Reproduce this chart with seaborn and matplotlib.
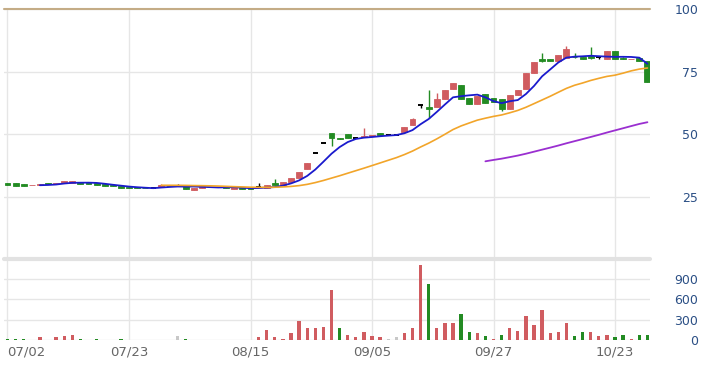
# Import libraries
import pandas as pd
import matplotlib
matplotlib.use('Agg')
import matplotlib.pyplot as plt
import seaborn as sns

# Set the theme of plots
sns.set_theme(style='white')
plt.rcParams['font.family'] = ['DejaVu Sans']

# Daily bars, index 0 = 07/02
opens = [30.7, 30.6, 30.2, 29.7, 29.9, 30.6, 30.1, 30.5, 30.6, 30.9,
         30.8, 30.6, 30.1, 29.8, 29.3, 29.1, 28.8, 28.7, 28.4, 29.0,
         29.8, 29.5, 29.3, 27.9, 28.6, 29.0, 28.9, 28.9, 28.3, 28.8,
         28.6, 29.0, 28.6, 30.7, 29.8, 30.8, 32.6, 36.2, 42.5, 46.7,
         50.4, 48.5, 50.0, 48.7, 49.0, 49.5, 50.4, 49.8, 49.8, 50.8,
         53.6, 61.6, 61.0, 60.7, 63.9, 67.9, 69.6, 64.6, 61.9, 65.9,
         64.3, 64.1, 59.9, 65.7, 67.9, 74.3, 80.0, 80.0, 79.4, 80.3,
         81.0, 80.7, 81.3, 80.7, 79.9, 83.2, 80.5, 80.0, 80.6, 79.2]
highs = [30.7, 30.6, 30.2, 29.9, 30.1, 30.6, 30.4, 31.2, 31.3, 30.9,
         30.8, 30.6, 30.1, 29.8, 29.3, 29.1, 28.8, 28.7, 28.4, 30.2,
         29.8, 30.3, 29.3, 28.6, 29.2, 29.0, 28.9, 28.9, 28.8, 28.8,
         28.6, 30.6, 29.6, 32.0, 31.1, 32.4, 35.0, 38.6, 42.5, 46.7,
         50.4, 48.5, 50.0, 48.7, 52.4, 49.7, 50.4, 49.8, 49.8, 53.0,
         56.5, 61.6, 67.7, 66.3, 67.7, 70.3, 69.6, 64.6, 65.3, 65.9,
         64.3, 64.1, 65.7, 67.7, 74.3, 78.8, 82.3, 80.0, 81.6, 85.3,
         82.3, 80.7, 85.0, 80.9, 83.2, 83.2, 80.9, 80.2, 80.6, 79.2]
lows = [29.6, 29.5, 29.2, 29.7, 29.9, 30.1, 30.1, 30.5, 30.6, 30.3,
        30.2, 29.9, 29.5, 29.3, 28.5, 28.4, 28.6, 28.5, 28.4, 28.8,
        29.5, 29.5, 28.3, 27.9, 28.6, 28.9, 28.8, 28.6, 28.3, 28.2,
        28.0, 29.0, 28.6, 29.8, 29.8, 30.8, 32.6, 36.2, 42.5, 46.7,
        45.3, 48.2, 48.6, 48.7, 49.0, 49.5, 49.8, 49.8, 49.8, 50.6,
        53.6, 60.5, 56.3, 60.7, 63.9, 67.9, 63.9, 61.9, 61.9, 62.3,
        62.7, 59.3, 59.9, 65.7, 67.9, 74.3, 79.0, 79.4, 79.4, 80.3,
        80.5, 79.9, 80.0, 80.1, 79.9, 80.2, 80.0, 80.0, 79.3, 71.0]
closes = [29.6, 29.5, 29.2, 29.9, 30.1, 30.1, 30.4, 31.2, 31.3, 30.3,
          30.2, 29.9, 29.5, 29.3, 28.5, 28.4, 28.6, 28.5, 28.4, 29.8,
          29.5, 29.5, 28.3, 28.6, 29.2, 28.9, 28.8, 28.6, 28.8, 28.2,
          28.0, 29.0, 29.6, 29.8, 31.1, 32.4, 35.0, 38.6, 42.5, 46.7,
          48.4, 48.2, 48.6, 48.7, 49.3, 49.7, 49.8, 49.8, 49.8, 52.9,
          56.0, 61.6, 60.2, 63.9, 67.7, 70.3, 63.9, 61.9, 65.3, 62.3,
          62.7, 59.9, 65.7, 67.7, 74.3, 78.8, 79.2, 79.4, 81.6, 84.0,
          80.7, 79.9, 80.5, 80.7, 83.2, 80.2, 80.0, 80.2, 79.3, 71.0]
volume = [15, 15, 15, 0, 40, 0, 44, 59, 73, 15,
          0, 12, 0, 0, 12, 0, 0, 0, 0, 0,
          0, 59, 12, 0, 0, 0, 0, 0, 0, 0,
          0, 40, 147, 40, 15, 98, 279, 172, 172, 186,
          745, 172, 73, 40, 113, 59, 40, 15, 40, 98,
          171, 1112, 833, 171, 245, 245, 392, 113, 98, 59,
          15, 73, 171, 132, 353, 220, 451, 98, 113, 245,
          59, 113, 113, 59, 73, 40, 73, 15, 73, 73]

tick_index = [0, 15, 30, 45, 60, 75]
tick_labels = ['07/02', '07/23', '08/15', '09/05', '09/27', '10/23']

RED = '#d05c60'
GREEN = '#238b23'
GRID = '#e6e6e6'

# Build the table
df = pd.DataFrame({'open': opens, 'high': highs, 'low': lows,
                   'close': closes, 'volume': volume})
df['idx'] = range(len(df))
df['ma5'] = df['close'].rolling(5).mean()
df['ma20'] = df['close'].rolling(20).mean()
df['ma60'] = df['close'].rolling(60).mean()

# Candle colour: close vs open; volume colour: close vs previous close
df['candle_col'] = [RED if c > o else (GREEN if c < o else 'black')
                    for o, c in zip(df['open'], df['close'])]
prev = df['close'].shift(1).fillna(df['open'])
df['vol_col'] = [RED if c > p else (GREEN if c < p else '#c8c8c8')
                 for p, c in zip(prev, df['close'])]

# Set the size of the plot
fig = plt.figure(figsize=(7.05, 3.71), dpi=100)
left, width = 3.85 / 705, 646.4 / 705
ax = fig.add_axes([left, 0.3005, width, 0.6752])
axv = fig.add_axes([left, 0.0836, width, 0.2183], sharex=ax)

# Candles: wicks, bodies, doji dashes
ax.vlines(df['idx'], df['low'], df['high'], colors=df['candle_col'], lw=1, zorder=3)
body = df[df['open'] != df['close']]
ax.bar(body['idx'], (body['close'] - body['open']).abs(),
       bottom=body[['open', 'close']].min(axis=1), width=0.72,
       color=body['candle_col'], edgecolor=body['candle_col'], linewidth=0.6, zorder=4)
doji = df[df['open'] == df['close']]
ax.hlines(doji['close'], doji['idx'] - 0.32, doji['idx'] + 0.32, colors='black', lw=1.4, zorder=4)

# Moving averages
sns.lineplot(data=df, x='idx', y='ma5', ax=ax, color='#1a1acd', linewidth=1.3, zorder=5)
sns.lineplot(data=df, x='idx', y='ma20', ax=ax, color='#f2a52a', linewidth=1.2, zorder=5)
sns.lineplot(data=df, x='idx', y='ma60', ax=ax, color='#9a2fd0', linewidth=1.3, zorder=5)

# Volume bars
axv.bar(df['idx'], df['volume'], width=0.4, color=df['vol_col'], linewidth=0, zorder=3)

# Axes settings
ax.set_xlim(-0.45, 79.35)
ax.set_ylim(0, 100)
axv.set_ylim(0, 1200)
for a in (ax, axv):
    for s in a.spines.values():
        s.set_visible(False)
    a.set_xlabel('')
    a.set_ylabel('')
    a.set_xticks(tick_index)
    a.grid(True, color=GRID, linewidth=1, zorder=0)
    a.set_axisbelow(True)
    a.yaxis.tick_right()
    a.tick_params(axis='y', length=0, pad=34.5, labelcolor='#2b4f85', labelsize=9)
    a.tick_params(axis='x', length=0)

ax.set_yticks([25, 50, 75, 100])
ax.tick_params(labelbottom=False)
ax.axhline(100, color='#c4ac86', linewidth=1.5, clip_on=False, zorder=2)

axv.set_yticks([0, 300, 600, 900])
axv.axhline(1200, color='#e2e2e2', linewidth=3, clip_on=False, zorder=2)
axv.set_xticklabels(tick_labels, color='#666666', fontsize=9.5)
axv.tick_params(axis='x', pad=4)
axv.get_xticklabels()[0].set_horizontalalignment('left')

for a in (ax, axv):
    for lbl in a.get_yticklabels():
        lbl.set_horizontalalignment('right')

# Save the plot
fig.savefig('out.png', dpi=100)
